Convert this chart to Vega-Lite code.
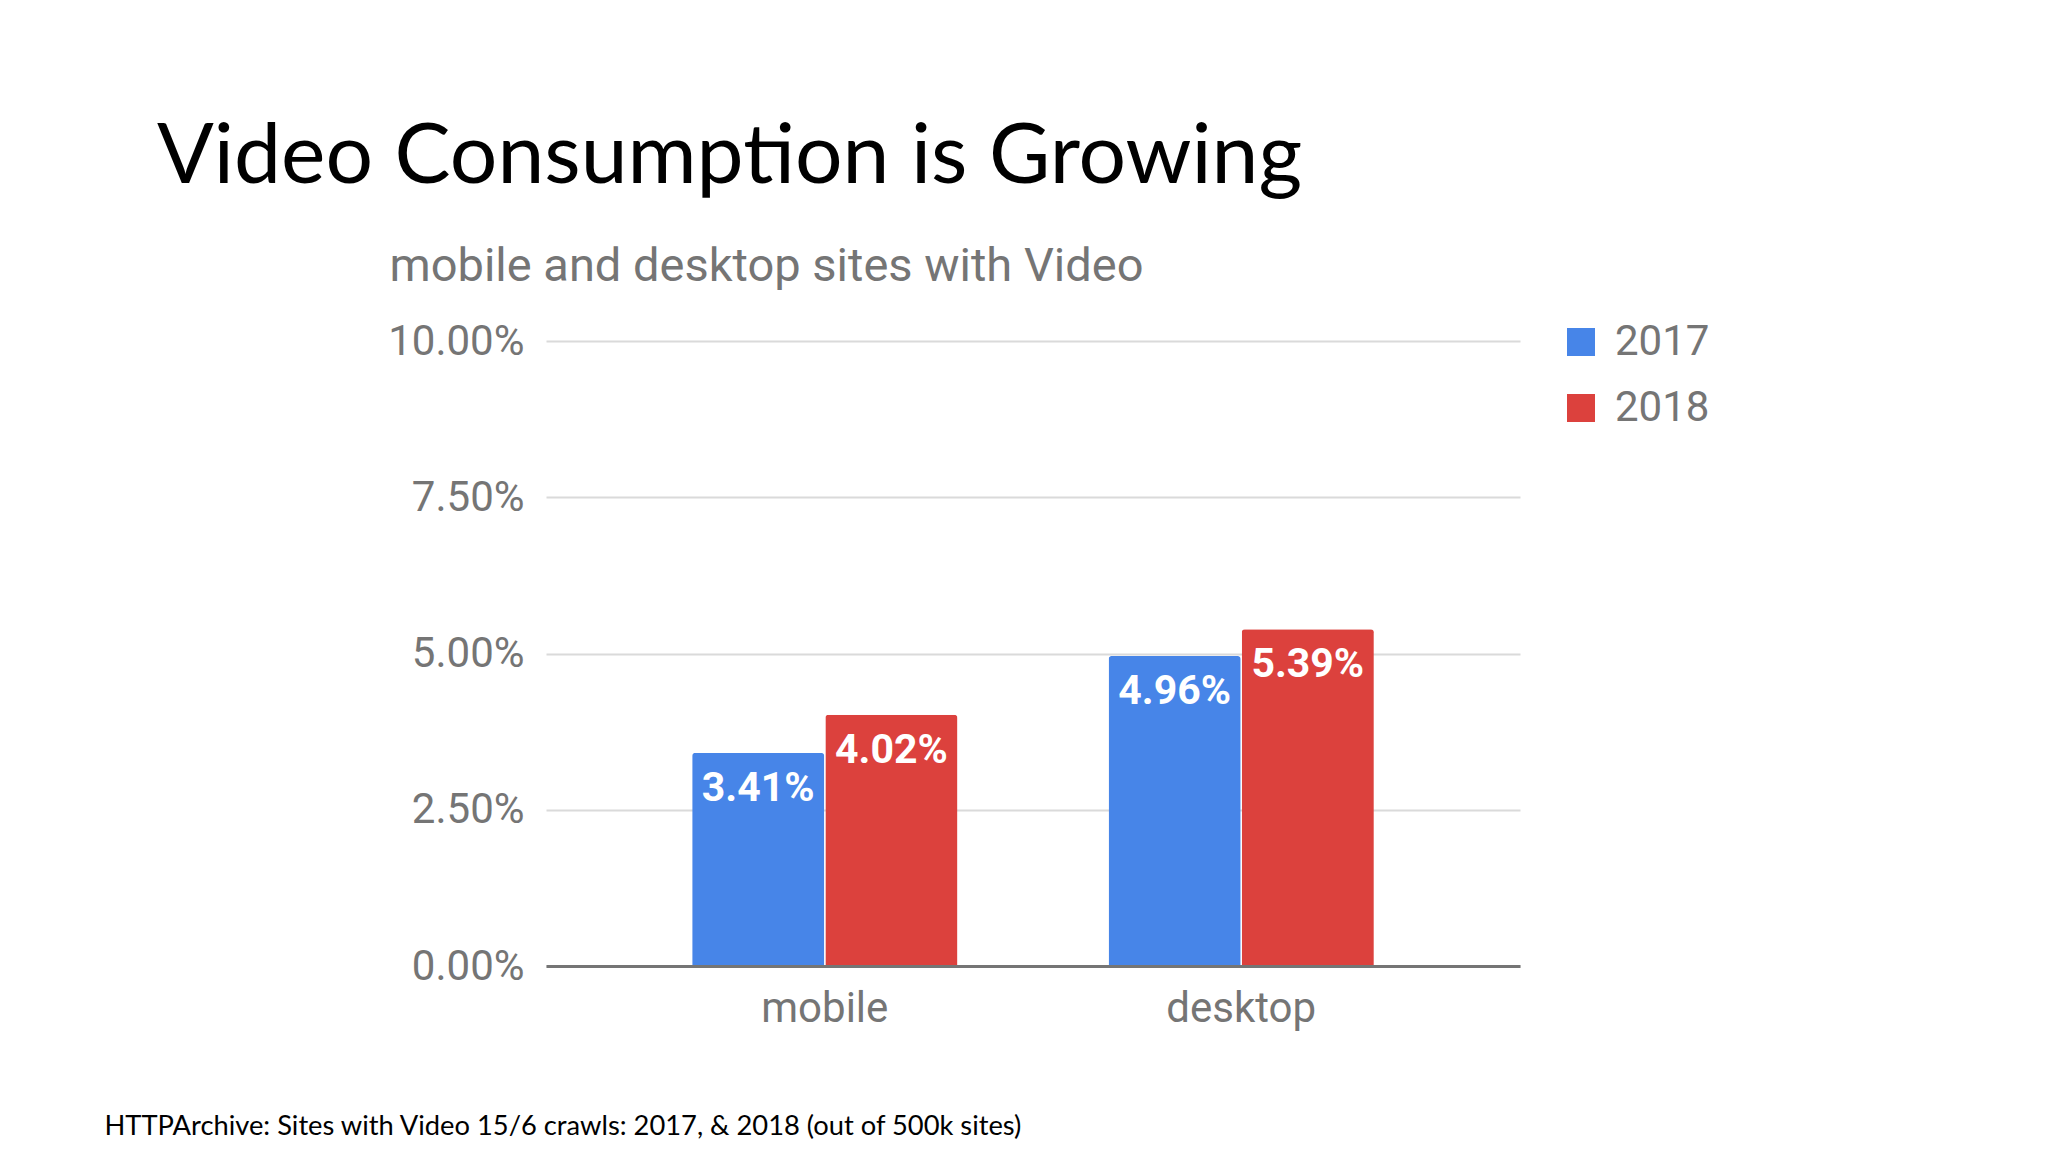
{
  "$schema": "https://vega.github.io/schema/vega-lite/v6.json",
  "autosize": {"type": "none"},
  "width": 974,
  "height": 625,
  "padding": {"left": 546, "top": 341, "right": 528, "bottom": 186},
  "background": "white",
  "title": {
    "text": "Video Consumption is Growing",
    "anchor": "start",
    "frame": "group",
    "dx": -389,
    "dy": -37,
    "font": "Lato",
    "fontSize": 84,
    "fontWeight": "normal",
    "color": "#000000"
  },
  "data": {
    "values": [
      {"platform": "mobile", "year": "2017", "share": 0.0341},
      {"platform": "mobile", "year": "2018", "share": 0.0402},
      {"platform": "desktop", "year": "2017", "share": 0.0496},
      {"platform": "desktop", "year": "2018", "share": 0.0539}
    ]
  },
  "config": {
    "view": {"stroke": null},
    "font": "Roboto"
  },
  "encoding": {
    "x": {
      "field": "platform",
      "type": "nominal",
      "sort": ["mobile", "desktop"],
      "scale": {"paddingInner": 0.363, "paddingOuter": 0.351},
      "axis": {
        "title": "HTTPArchive: Sites with Video 15/6 crawls: 2017, & 2018  (out of 500k sites)",
        "titleX": -442,
        "titleY": 160,
        "titleAlign": "left",
        "titleBaseline": "middle",
        "titleFont": "Lato",
        "titleFontSize": 27.3,
        "titleFontWeight": "normal",
        "titleColor": "#000000",
        "labelAngle": 0,
        "labelFontSize": 42,
        "labelColor": "#757575",
        "labelPadding": 22,
        "ticks": false,
        "domain": true,
        "domainColor": "#757575",
        "domainWidth": 3,
        "zindex": 2
      }
    },
    "xOffset": {
      "field": "year",
      "type": "nominal",
      "scale": {"paddingInner": 0.008, "paddingOuter": 0}
    },
    "y": {
      "field": "share",
      "type": "quantitative",
      "scale": {"domain": [0, 0.1]},
      "axis": {
        "values": [0, 0.025, 0.05, 0.075, 0.1],
        "format": ".2%",
        "title": "mobile and desktop sites with Video",
        "titleAngle": 0,
        "titleX": -157,
        "titleY": -75,
        "titleAlign": "left",
        "titleBaseline": "middle",
        "titleFontSize": 47,
        "titleFontWeight": "normal",
        "titleColor": "#757575",
        "labelFontSize": 42,
        "labelColor": "#757575",
        "labelPadding": 22,
        "ticks": false,
        "domain": false,
        "grid": true,
        "gridColor": "#dadada",
        "gridWidth": 2
      }
    }
  },
  "layer": [
    {
      "mark": {"type": "bar", "cornerRadiusTopLeft": 3, "cornerRadiusTopRight": 3},
      "encoding": {
        "color": {
          "field": "year",
          "type": "nominal",
          "scale": {"domain": ["2017", "2018"], "range": ["#4785e8", "#dc413d"]},
          "legend": {
            "title": null,
            "orient": "none",
            "legendX": 1014,
            "legendY": -20,
            "symbolType": "square",
            "symbolSize": 784,
            "symbolStrokeWidth": 0,
            "labelFontSize": 42,
            "labelColor": "#757575",
            "labelOffset": 13,
            "rowPadding": 24,
            "padding": 0
          }
        }
      }
    },
    {
      "mark": {
        "type": "text",
        "baseline": "middle",
        "align": "center",
        "dy": 36,
        "color": "white",
        "fontSize": 41,
        "fontWeight": "bold",
        "font": "Roboto"
      },
      "encoding": {
        "text": {"field": "share", "type": "quantitative", "format": ".2%"}
      }
    }
  ]
}
